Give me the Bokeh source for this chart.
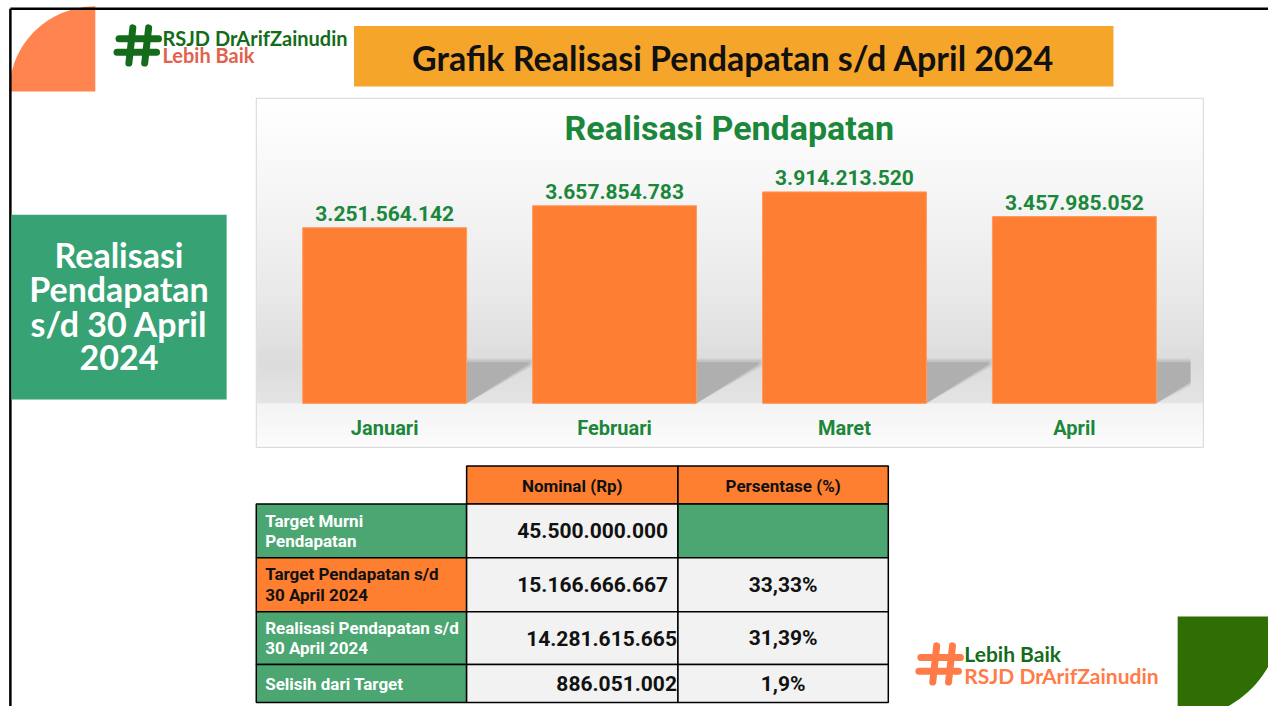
import numpy as np
from bokeh.plotting import figure
from bokeh.models import Range1d, ColumnDataSource
from bokeh.core.properties import value
from bokeh.embed import file_html
from bokeh.resources import INLINE

# ---------------- data ----------------
months = ["Januari", "Februari", "Maret", "April"]
realisasi = [3251564142, 3657854783, 3914213520, 3457985052]

table_header = ["Nominal (Rp)", "Persentase (%)"]
row_labels = ["Target Murni\nPendapatan",
              "Target Pendapatan s/d\n30 April 2024",
              "Realisasi Pendapatan s/d\n30 April 2024",
              "Selisih dari Target"]
nominal = ["45.500.000.000", "15.166.666.667", "14.281.615.665", "886.051.002"]
persen = ["", "33,33%", "31,39%", "1,9%"]

slide_title = "Grafik Realisasi Pendapatan s/d April 2024"
chart_title = "Realisasi Pendapatan"
side_lines = ["Realisasi", "Pendapatan", "s/d 30 April", "2024"]
logo_name = "RSJD DrArifZainudin"
logo_tag = "Lebih Baik"

# ---------------- styles / layout ----------------
BAR_ORANGE = "#fe7f33"
CHART_GREEN = "#1b873b"
DARK_GREEN = "#146c1a"
LOGO_ORANGE = "#ff7c48"
LOGO_RED = "#e2614c"
TBL_GREEN = "#4ba672"
TBL_ORANGE = "#fd7f2f"
CELL_BG = "#f2f2f2"
SANS = value("Lato")
COND = value("Roboto")

SW, SH = 1284, 722          # slide coordinate space
W, H = 1268, 706            # figure size on the page
p = figure(width=W, height=H, x_range=Range1d(0, SW), y_range=Range1d(SH, 0),
           output_backend="svg", toolbar_location=None, min_border=0,
           outline_line_color=None, background_fill_color="white",
           border_fill_color="white")
p.axis.visible = False
p.xgrid.visible = False
p.ygrid.visible = False

# bar-chart scales (mapped into the slide area)
BASE_Y = 412.0
PX_PER_RP = 55.25e-9
CENTER0 = 389.0
STEP = 232.8
BAR_W = 0.713
p.extra_x_ranges = {"mx": Range1d((0 - CENTER0) / STEP, (SW - CENTER0) / STEP)}
p.extra_y_ranges = {"vy": Range1d(-(SH - BASE_Y) / PX_PER_RP, (BASE_Y - 0) / PX_PER_RP)}

# ---------------- slide decorations ----------------
a = np.linspace(0, np.pi / 2, 60)
cx, cy, r = 96, 93, 87
p.patch(list(np.r_[cx, cx - r * np.cos(a)]), list(np.r_[cy, cy - r * np.sin(a)]),
        fill_color="#ff8450", line_color=None)
cx, cy, r = 1192, 630, 105
p.patch(list(np.r_[cx, cx + r * np.cos(a)]), list(np.r_[cy, cy + r * np.sin(a)]),
        fill_color="#2f6e03", line_color=None)

# slide frame
p.segment(x0=[10, 10], y0=[8.5, 8.5], x1=[1284, 10], y1=[8.5, 722], line_color="black", line_width=2.5)

# title banner
p.quad(left=[358], right=[1127], top=[26], bottom=[88], fill_color="#f5a52a", line_color=None)
p.text(x=[742], y=[58], text=[slide_title], text_font=SANS, text_font_style="bold",
       text_font_size="34px", text_color="#111111", text_align="center", text_baseline="middle")

# top-left logo
p.segment(x0=[134, 150, 120, 118], y0=[28, 28, 39, 53], x1=[130, 146, 160, 158], y1=[64, 64, 39, 53],
          line_color=DARK_GREEN, line_width=7, line_cap="round")
p.text(x=[164], y=[38], text=[logo_name], text_font=SANS, text_font_style="bold",
       text_font_size="20px", text_color=DARK_GREEN, text_baseline="middle")
p.text(x=[164], y=[56], text=[logo_tag], text_font=SANS, text_font_style="bold",
       text_font_size="20px", text_color=LOGO_RED, text_baseline="middle")

# bottom-right logo
p.segment(x0=[948, 964, 932, 930], y0=[660, 660, 672, 686], x1=[944, 960, 972, 970], y1=[697, 697, 672, 686],
          line_color=LOGO_ORANGE, line_width=7, line_cap="round")
p.text(x=[976], y=[668], text=[logo_tag], text_font=SANS, text_font_style="bold",
       text_font_size="21px", text_color=DARK_GREEN, text_baseline="middle")
p.text(x=[976], y=[690], text=[logo_name], text_font=SANS, text_font_style="bold",
       text_font_size="21px", text_color=LOGO_ORANGE, text_baseline="middle")

# side box
p.quad(left=[11], right=[229], top=[219], bottom=[408], fill_color="#37a274", line_color=None)
p.text(x=[120] * 4, y=[260, 295, 330, 365], text=side_lines, text_font=SANS,
       text_font_style="bold", text_font_size="34px", text_color="white",
       text_align="center", text_baseline="middle")

# ---------------- chart box ----------------
stops_y = [101, 200, 300, 370, 411, 412, 456]
stops_c = [255, 245, 233, 220, 228, 243, 252]
ys = np.arange(101, 456)
cs = np.interp(ys, stops_y, stops_c).round().astype(int)
p.quad(left=[260] * len(ys), right=[1218] * len(ys), top=list(ys), bottom=list(ys + 2),
       fill_color=["#%02x%02x%02x" % (c, c, c) for c in cs], line_color=None)
p.quad(left=[259], right=[1218], top=[100], bottom=[457], fill_color=None,
       line_color="#d6d6d6", line_width=1)

p.text(x=[738], y=[130], text=[chart_title], text_font=COND, text_font_style="bold",
       text_font_size="34px", text_color=CHART_GREEN, text_align="center", text_baseline="middle")

# floor shadows behind bars
dx = 63 / STEP
x_clip = (1205 - CENTER0) / STEP
for grow, alpha in [(4, 0.25), (2, 0.35), (0, 0.75)]:
    xs_list, ys_list = [], []
    for i in range(len(months)):
        xr = i + BAR_W / 2
        xe = min(xr + dx + grow / STEP, x_clip)
        yd = BASE_Y - (xe - xr) / dx * 40
        xs_list.append([xr, xr, xe, xe])
        ys_list.append([BASE_Y, 370 - grow, 370 - grow, yd + grow])
    p.patches(xs=xs_list, ys=ys_list, x_range_name="mx", fill_color="#a8a8a8",
              fill_alpha=alpha, line_color=None)

src = ColumnDataSource(dict(
    x=list(range(len(months))),
    top=realisasi,
    label=[f"{v:,}".replace(",", ".") for v in realisasi],
    month=months,
    my=[437] * len(months),
))
p.vbar(x="x", top="top", bottom=0, width=BAR_W, source=src, x_range_name="mx",
       y_range_name="vy", fill_color=BAR_ORANGE, line_color="#ff9a60", line_width=1)
p.text(x="x", y="top", text="label", source=src, x_range_name="mx", y_range_name="vy",
       y_offset=-7, text_font=COND, text_font_style="bold", text_font_size="21px",
       text_color=CHART_GREEN, text_align="center", text_baseline="bottom")
p.text(x="x", y="my", text="month", source=src, x_range_name="mx",
       text_font=COND, text_font_style="bold", text_font_size="20px",
       text_color=CHART_GREEN, text_align="center", text_baseline="middle")

# ---------------- table ----------------
col_x = [259, 472, 686, 899]
row_y = [515, 570, 625, 679, 718]
head_top = 476
label_fill = [TBL_GREEN, TBL_ORANGE, TBL_GREEN, TBL_GREEN]
label_color = ["white", "#111111", "white", "white"]
nom_right = [676, 676, 685, 685]

p.quad(left=col_x[1:3], right=col_x[2:4], top=[head_top] * 2, bottom=[row_y[0]] * 2,
       fill_color=TBL_ORANGE, line_color="black", line_width=1.5)
p.text(x=[(col_x[1] + col_x[2]) / 2, (col_x[2] + col_x[3]) / 2], y=[496] * 2,
       text=table_header, text_font=COND, text_font_style="bold", text_font_size="17px",
       text_color="#111111", text_align="center", text_baseline="middle")

n = len(row_labels)
tops = row_y[:-1]
bots = row_y[1:]
p.quad(left=[col_x[0]] * n, right=[col_x[1]] * n, top=tops, bottom=bots,
       fill_color=label_fill, line_color="black", line_width=1.5)
p.quad(left=[col_x[1]] * n, right=[col_x[2]] * n, top=tops, bottom=bots,
       fill_color=CELL_BG, line_color="black", line_width=1.5)
p.quad(left=[col_x[2]] * n, right=[col_x[3]] * n, top=tops, bottom=bots,
       fill_color=[TBL_GREEN if s == "" else CELL_BG for s in persen],
       line_color="black", line_width=1.5)

lx, ly, lt, lc = [], [], [], []
for i, lab in enumerate(row_labels):
    lines = lab.split("\n")
    mid = (tops[i] + bots[i]) / 2
    for k, line in enumerate(lines):
        lx.append(col_x[0] + 9)
        ly.append(mid + (k - (len(lines) - 1) / 2) * 21)
        lt.append(line)
        lc.append(label_color[i])
p.text(x=lx, y=ly, text=lt, text_color=lc, text_font=COND, text_font_style="bold",
       text_font_size="17px", text_baseline="middle")

mids = [(tops[i] + bots[i]) / 2 for i in range(n)]
p.text(x=nom_right, y=mids, text=nominal, text_font=COND, text_font_style="bold",
       text_font_size="21px", text_color="#111111", text_align="right", text_baseline="middle")
p.text(x=[(col_x[2] + col_x[3]) / 2] * n, y=mids, text=persen, text_font=COND,
       text_font_style="bold", text_font_size="21px", text_color="#111111",
       text_align="center", text_baseline="middle")

open("out.html", "w").write(file_html(p, INLINE))
